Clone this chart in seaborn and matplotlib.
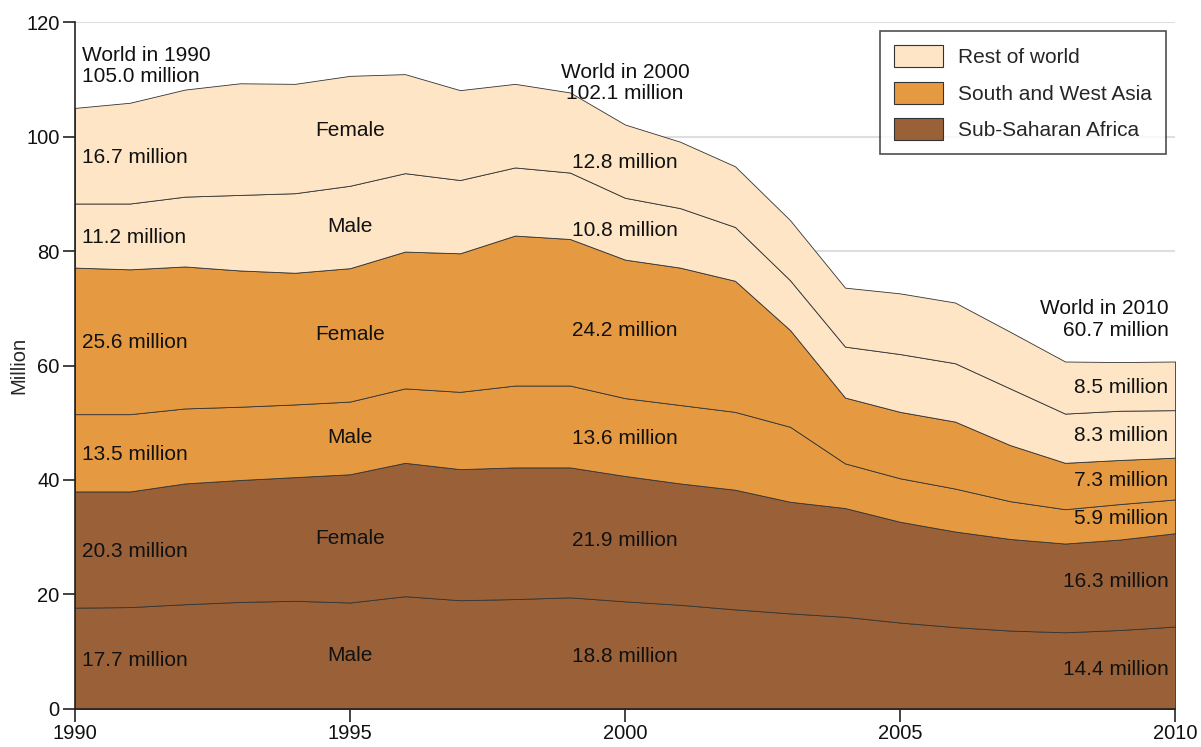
import numpy as np
import pandas as pd
import seaborn as sns
import matplotlib.pyplot as plt

years = list(range(1990, 2011))

ssa_male = [17.7, 17.8, 18.3, 18.7, 18.9, 18.6, 19.7, 19.0, 19.2, 19.5, 18.8,
            18.2, 17.4, 16.7, 16.1, 15.1, 14.3, 13.7, 13.4, 13.8, 14.4]
ssa_female = [20.3, 20.2, 21.1, 21.3, 21.6, 22.4, 23.3, 22.9, 23.0, 22.7, 21.9,
              21.2, 20.9, 19.5, 19.0, 17.6, 16.7, 16.0, 15.5, 15.8, 16.3]
swa_male = [13.5, 13.5, 13.1, 12.8, 12.7, 12.7, 13.0, 13.5, 14.3, 14.3, 13.6,
            13.7, 13.6, 13.1, 7.8, 7.6, 7.5, 6.6, 6.0, 6.2, 5.9]
swa_female = [25.6, 25.3, 24.8, 23.8, 23.0, 23.3, 23.9, 24.2, 26.2, 25.6, 24.2,
              24.0, 22.9, 16.9, 11.5, 11.6, 11.7, 9.8, 8.1, 7.7, 7.3]
row_male = [11.2, 11.5, 12.2, 13.2, 13.9, 14.4, 13.7, 12.8, 11.9, 11.6, 10.8,
            10.4, 9.4, 8.7, 8.9, 10.1, 10.2, 9.9, 8.6, 8.6, 8.3]
row_female = [16.7, 17.6, 18.7, 19.5, 19.1, 19.2, 17.3, 15.7, 14.6, 14.0, 12.8,
              11.6, 10.6, 10.5, 10.3, 10.6, 10.6, 9.9, 9.1, 8.5, 8.5]

regions = ['Sub-Saharan Africa', 'South and West Asia', 'Rest of world']
region_colors = ['#9a6139', '#e59a41', '#fde5c5']
label_years = [1990, 2000, 2010]
sex_year = 1995

df = pd.DataFrame({'year': years,
                   'ssa_m': ssa_male, 'ssa_f': ssa_female,
                   'swa_m': swa_male, 'swa_f': swa_female,
                   'row_m': row_male, 'row_f': row_female})
layers = ['ssa_m', 'ssa_f', 'swa_m', 'swa_f', 'row_m', 'row_f']
layer_colors = [region_colors[0]] * 2 + [region_colors[1]] * 2 + [region_colors[2]] * 2

sns.set_theme(style='white')
plt.rcParams['font.family'] = ['Liberation Sans', 'DejaVu Sans']

fig, ax = plt.subplots(figsize=(12.01, 7.47), dpi=100)
fig.subplots_adjust(left=0.0624, right=0.9784, top=0.9705, bottom=0.0509)

ax.stackplot(df['year'], [df[c] for c in layers], colors=layer_colors,
             edgecolor='#333333', linewidth=0.6, zorder=2)

ax.set_xlim(1990, 2010)
ax.set_ylim(0, 120)
ax.set_xticks([1990, 1995, 2000, 2005, 2010])
ax.set_yticks(range(0, 121, 20))
ax.yaxis.grid(True, color='#dedede', linewidth=1.5, zorder=0)
ax.set_axisbelow(True)
ax.tick_params(axis='both', which='both', direction='out', length=9, width=1.2,
               color='#222222', labelsize=14.5, labelcolor='#111111', pad=2,
               bottom=True, left=True)
ax.set_ylabel('Million', fontsize=14.5)
ax.yaxis.set_label_coords(-0.0427, 0.5)
sns.despine(ax=ax)
for s in ['left', 'bottom']:
    ax.spines[s].set_color('#222222')
    ax.spines[s].set_linewidth(1.2)

cum = df[layers].cumsum(axis=1)
total = cum['row_f']

def mid(col, i):
    top = cum[col].iloc[i]
    k = layers.index(col)
    bottom = cum[layers[k - 1]].iloc[i] if k > 0 else 0
    return (top + bottom) / 2

fs = 15
# labels at 1990 / 2000 / 2010
for yr, ha, dx in zip(label_years, ['left', 'center', 'right'], [0.12, 0, -0.12]):
    i = years.index(yr)
    for col in layers:
        ax.text(yr + dx, mid(col, i) - 0.3, f'{df[col].iloc[i]:.1f} million',
                ha=ha, va='center', fontsize=fs, color='#111111', zorder=5)
    ax.text(yr + dx, total.iloc[i] + 3.8, f'World in {yr}\n{total.iloc[i]:.1f} million',
            ha=ha, va='bottom', fontsize=fs, color='#111111', linespacing=1.15,
            multialignment=ha, zorder=5)

# sex labels
i = years.index(sex_year)
for col in layers:
    sex = 'Male' if col.endswith('_m') else 'Female'
    ax.text(sex_year, mid(col, i), sex, ha='center', va='center', fontsize=fs,
            color='#111111', zorder=5)

handles = [plt.Rectangle((0, 0), 1, 1, facecolor=c, edgecolor='#333333', linewidth=0.8)
           for c in region_colors[::-1]]
leg = ax.legend(handles, regions[::-1], loc='upper right', fontsize=15,
                frameon=True, fancybox=False, edgecolor='#222222',
                handlelength=2.35, handleheight=1.25, handletextpad=0.75,
                labelspacing=0.7, borderpad=0.65, borderaxespad=0.45)
leg.get_frame().set_linewidth(1.2)
leg.set_zorder(6)

plt.savefig('out.png', dpi=100)
